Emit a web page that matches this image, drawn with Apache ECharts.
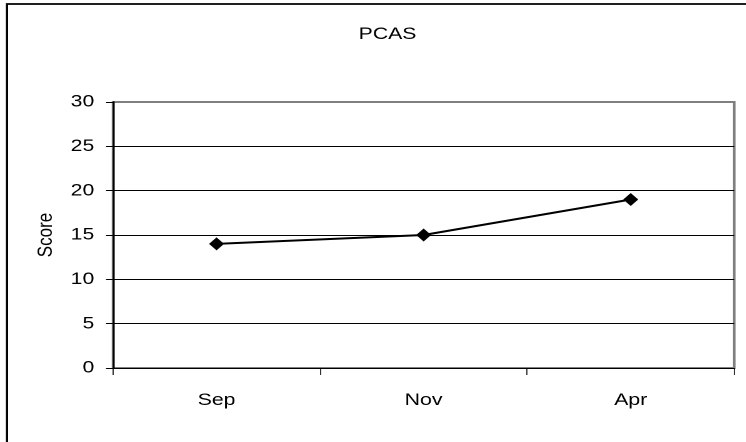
<!DOCTYPE html>
<html>
<head>
<meta charset="utf-8">
<script src="https://cdn.jsdelivr.net/npm/echarts@6/dist/echarts.min.js"></script>
<style>
  html, body { margin: 0; padding: 0; background: #fff; overflow: hidden; }
  /* The chart is laid out narrower and widened horizontally,
     giving the wide lettering of the original sheet. */
  #chart { width: 597px; height: 442px; transform: scaleX(1.25); transform-origin: 0 0; }
</style>
</head>
<body>
<div id="chart"></div>
<script>
// PCAS scores by assessment month
const months = ['Sep', 'Nov', 'Apr'];
const scores = [14, 15, 19];
const yTicks = { min: 0, max: 30, step: 5 };

const FONT = '"Liberation Sans", Arial, sans-serif';

// render at a finer pixel ratio so the widened canvas stays smooth
const chart = echarts.init(document.getElementById('chart'), null, { renderer: 'canvas', devicePixelRatio: 2 });

chart.setOption({
  backgroundColor: '#fff',
  animation: false,
  title: {
    text: 'PCAS',
    left: 305,
    top: 21,
    textAlign: 'center',
    textStyle: { fontFamily: FONT, fontSize: 17, fontWeight: 'normal', color: '#000' }
  },
  graphic: [{
    type: 'rect',
    shape: { x: 5.6, y: 4, width: 700, height: 500 },
    style: { fill: 'none', stroke: '#000', lineWidth: 1.8 },
    silent: true
  }],
  grid: {
    left: 90.4, right: 9.6, top: 102, bottom: 74,
    show: true,
    borderColor: '#808080',
    borderWidth: 2,
    backgroundColor: '#fff'
  },
  xAxis: {
    type: 'category',
    data: months,
    boundaryGap: true,
    axisLine: { lineStyle: { color: '#000', width: 1 } },
    axisTick: { show: true, alignWithLabel: false, length: 7, lineStyle: { color: '#000', width: 0.8 } },
    axisLabel: { margin: 24, fontFamily: FONT, fontSize: 17, color: '#000' },
    splitLine: { show: false }
  },
  yAxis: {
    type: 'value',
    name: 'Score',
    nameLocation: 'middle',
    nameGap: 45,
    nameRotate: 90,
    nameTextStyle: { fontFamily: FONT, fontSize: 17, color: '#000' },
    min: yTicks.min,
    max: yTicks.max,
    interval: yTicks.step,
    axisLine: { show: true, lineStyle: { color: '#000', width: 1.5 } },
    axisTick: { show: true, length: 5.6, lineStyle: { color: '#000' } },
    axisLabel: { margin: 15, fontFamily: FONT, fontSize: 17, color: '#000' },
    splitLine: {
      show: true,
      lineStyle: { color: ['#000', '#000', '#000', '#000', '#000', '#000', '#808080'], width: 1 }
    }
  },
  series: [{
    type: 'line',
    data: scores,
    symbol: 'diamond',
    symbolSize: [12, 13],
    itemStyle: { color: '#000' },
    lineStyle: { color: '#000', width: 2 }
  }]
});
</script>
</body>
</html>
